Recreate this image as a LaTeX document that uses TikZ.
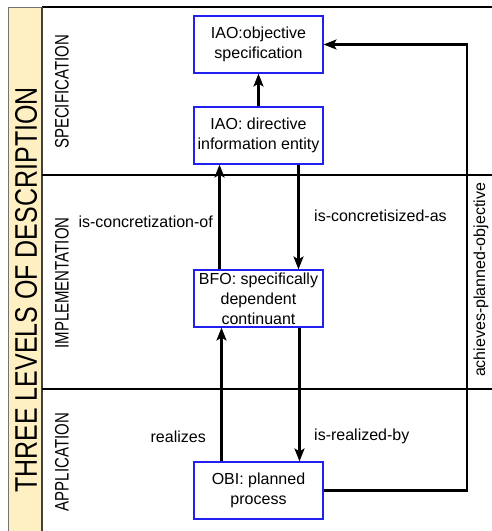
\documentclass[tikz,border=0pt]{standalone}
\usepackage{fontspec}
\setmainfont{Liberation Sans}
\usetikzlibrary{arrows.meta}
\definecolor{bandyellow}{HTML}{FFF0C4}
\definecolor{boxblue}{HTML}{2020F0}
\tikzset{
  concept/.style={draw=boxblue, line width=1.1pt, fill=white,
    minimum width=129pt, minimum height=57pt, inner sep=1pt,
    align=center, font=\fontsize{16}{20}\selectfont},
  rel/.style={line width=2.4pt, -{Stealth[length=13pt,width=10pt,inset=3pt]}},
  rellabel/.style={font=\fontsize{16}{19}\selectfont, inner sep=0pt},
  levellabel/.style={font=\fontsize{15}{18}\selectfont, rotate=90, yscale=1.3, inner sep=0pt},
  sep/.style={line width=1.1pt, draw=black}
}
\begin{document}
\begin{tikzpicture}[x=1pt,y=-1pt]
\useasboundingbox (0,0) rectangle (492,531);
% side band
\fill[bandyellow] (8,7) rectangle (42,531);
\draw[line width=0.8pt, draw=black!55] (8,531) -- (8,7) -- (42,7);
\draw[sep] (42,7) -- (492,7);
\draw[sep, draw=black!75] (42,7) -- (42,531);
\draw[sep] (42,175) -- (492,175);
\draw[sep] (42,389) -- (492,389);
\node[font=\fontsize{25}{28}\selectfont, rotate=90, yscale=1.25, inner sep=0pt] (title) at (26,290) {THREE LEVELS OF DESCRIPTION};
\node[levellabel] (lspec) at (62,92) {SPECIFICATION};
\node[levellabel] (limpl) at (62,283) {IMPLEMENTATION};
\node[levellabel] (lappl) at (62,462) {APPLICATION};
% concepts
\node[concept] (obj) at (258.5,44.5) {IAO:objective\\specification};
\node[concept] (dir) at (258.5,135.5) {IAO: directive\\information entity};
\node[concept] (bfo) at (258.5,298.5) {BFO: specifically\\dependent\\continuant};
\node[concept] (obi) at (258.5,490.5) {OBI: planned\\process};
% relations
\draw[rel] (dir.north) -- (obj.south);
\draw[rel] ([xshift=-39]bfo.north) -- ([xshift=-39]dir.south);
\draw[rel] ([xshift=40]dir.south) -- ([xshift=40]bfo.north);
\draw[rel] ([xshift=-37]obi.north) -- ([xshift=-37]bfo.south);
\draw[rel] ([xshift=41]bfo.south) -- ([xshift=41]obi.north);
\coordinate (corner) at (467,490.5);
\draw[rel] (obi.east) -- (corner) |- (obj.east);
% relation labels
\node[rellabel, anchor=east] (t1) at (213,222) {is-concretization-of};
\node[rellabel, anchor=west] (t2) at (314,216) {is-concretisized-as};
\node[rellabel, anchor=east] (t3) at (206,437) {realizes};
\node[rellabel, anchor=west] (t4) at (314,436) {is-realized-by};
\node[rellabel, rotate=90] (t5) at (481,280) {achieves-planned-objective};
\end{tikzpicture}
\end{document}
